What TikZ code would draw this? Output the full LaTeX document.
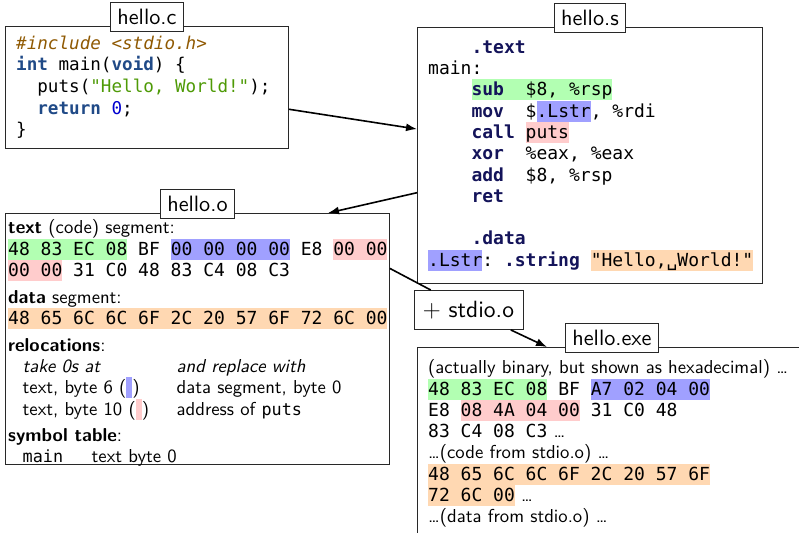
\documentclass[tikz,border=0pt]{standalone}
\usepackage{fontspec}
\setmonofont{DejaVu Sans Mono}
\setsansfont{lmsans10-regular.otf}[BoldFont=lmsans10-bold.otf, ItalicFont=lmsans10-oblique.otf, BoldItalicFont=lmsans10-boldoblique.otf]
\usetikzlibrary{arrows.meta,calc}
\definecolor{hlg}{RGB}{178,255,178}
\definecolor{hlb}{RGB}{160,160,255}
\definecolor{hlr}{RGB}{255,204,204}
\definecolor{hlo}{RGB}{255,216,178}
\definecolor{kwc}{RGB}{32,74,135}
\definecolor{strc}{RGB}{78,154,6}
\definecolor{numc}{RGB}{0,0,207}
\definecolor{ppc}{RGB}{143,89,2}
\definecolor{asmc}{RGB}{20,20,90}
\definecolor{edgec}{RGB}{40,40,40}
\newcommand\mystrut{\rule[-4.5pt]{0pt}{21pt}}
\newcommand\hlx[2]{{\setlength{\fboxsep}{0pt}\colorbox{#1}{\mystrut#2}}}
\newcommand\ckw[1]{\textcolor{kwc}{\bfseries #1}}
\newcommand\ak[1]{\textcolor{asmc}{\bfseries #1}}
\newcommand\smono{\ttfamily\fontsize{18}{21}\selectfont}
\newcommand\tmono{\ttfamily\fontsize{16.8}{21}\selectfont}
\tikzset{
  filebox/.style={draw=edgec, line width=0.9pt, rectangle, inner sep=0pt, anchor=north west},
  lbl/.style={draw=edgec, line width=0.9pt, fill=white, font=\sffamily\fontsize{22.2}{24}\selectfont, inner xsep=6.8pt, inner ysep=7pt},
  txt/.style={anchor=north west, inner sep=0pt, align=left, font=\sffamily\fontsize{18.7}{21}\selectfont},
  conn/.style={line width=1.6pt, draw=black},
  arr/.style={conn, -{Latex[length=11pt,width=8pt]}},
}
\begin{document}
\begin{tikzpicture}[x=1pt,y=1pt]
\useasboundingbox (0,0) rectangle (799,-532);
\clip (0,0) rectangle (799,-532);
\frenchspacing
% boxes
\node[filebox, minimum width=283pt, minimum height=122pt] (hc) at (5,-26) {};
\node[filebox, minimum width=345pt, minimum height=256pt] (hs) at (417,-27) {};
\node[filebox, minimum width=384pt, minimum height=251pt] (ho) at (5,-213) {};
\node[filebox, minimum width=389pt, minimum height=200pt] (hx) at (417,-347) {};
% contents
\node[txt, font=\ttfamily\fontsize{17.6}{21.6}\selectfont] (hcT) at (16,-32.5) {%
\mystrut\textcolor{ppc}{\itshape\#include <stdio.h>}\\
\mystrut\ckw{int} main(\ckw{void}) \{\\
\mystrut~~puts(\textcolor{strc}{"Hello, World!"});\\
\mystrut~~\ckw{return} \textcolor{numc}{0};\\
\mystrut\}};
\node[txt, font=\ttfamily\fontsize{18}{21.3}\selectfont] (hsT) at (428,-36.5) {%
\mystrut~~~~\ak{.text}\\
\mystrut main:\\
\mystrut~~~~\hlx{hlg}{\ak{sub}~~\$8, \%rsp}\\
\mystrut~~~~\ak{mov}~~\$\hlx{hlb}{.Lstr}, \%rdi\\
\mystrut~~~~\ak{call} \hlx{hlr}{puts}\\
\mystrut~~~~\ak{xor}~~\%eax, \%eax\\
\mystrut~~~~\ak{add}~~\$8, \%rsp\\
\mystrut~~~~\ak{ret}\\
\mystrut\\
\mystrut~~~~\ak{.data}\\
\mystrut\hlx{hlb}{.Lstr}: \ak{.string} \hlx{hlo}{"Hello,␣World!"}};
\node[txt] (hoT) at (8,-216.5) {%
\mystrut\textbf{text} (code) segment:\\
{\smono\mystrut\hlx{hlg}{48 83 EC 08} BF \hlx{hlb}{00 00 00 00} E8 \hlx{hlr}{00 00}}\\
{\smono\mystrut\hlx{hlr}{00 00} 31 C0 48 83 C4 08 C3}\\[6pt]
\mystrut\textbf{data} segment:\\
{\smono\mystrut\hlx{hlo}{48 65 6C 6C 6F 2C 20 57 6F 72 6C 00}}\\[6pt]
\mystrut\textbf{relocations}:\\
\mystrut\hspace*{14.5pt}\makebox[154pt][l]{\itshape take 0s at}{\itshape and replace with}\\
\mystrut\hspace*{14.5pt}\makebox[154pt][l]{text, byte 6 (\hlx{hlb}{\hspace*{6pt}})}data segment, byte 0\\
\mystrut\hspace*{14.5pt}\makebox[154pt][l]{text, byte 10 (\hlx{hlr}{\hspace*{6pt}})}address of {\tmono puts}\\[4pt]
\mystrut\textbf{symbol table}:\\
\mystrut\hspace*{14.5pt}\makebox[69pt][l]{\tmono main}text byte 0};
\node[txt] (hxT) at (428,-356.5) {%
\mystrut(actually binary, but shown as hexadecimal) \dots\\
{\smono\mystrut\hlx{hlg}{48 83 EC 08} BF \hlx{hlb}{A7 02 04 00}}\\
{\smono\mystrut E8 \hlx{hlr}{08 4A 04 00} 31 C0 48}\\
{\smono\mystrut 83 C4 08 C3} \dots\\
\mystrut\dots(code from stdio.o) \dots\\
{\smono\mystrut\hlx{hlo}{48 65 6C 6C 6F 2C 20 57 6F}}\\
{\smono\mystrut\hlx{hlo}{72 6C 00}} \dots\\
\mystrut\dots(data from stdio.o) \dots};
% labels
\node[lbl] (hcL) at ([yshift=9pt]hc.north) {hello.c};
\node[lbl] (hsL) at ([yshift=9pt]hs.north) {hello.s};
\node[lbl] (hoL) at ([yshift=9pt]ho.north) {hello.o};
\node[lbl] (hxL) at ([yshift=9pt]hx.north) {hello.exe};
% linker node
\node[lbl, font=\sffamily\fontsize{23.5}{26}\selectfont, minimum width=109pt, minimum height=39pt, inner xsep=4pt, inner ysep=4pt] (st) at (468.5,-310) {$+$ stdio.o};
% connectors
\coordinate (hsOut) at ($(hs.north west)!0.645!(hs.south west)$);
\coordinate (hoIn) at ([xshift=323pt]ho.north west);
\coordinate (hoOut) at ($(ho.north east)!0.22!(ho.south east)$);
\coordinate (hxIn) at ([xshift=130pt]hx.north west);
\draw[arr] (hc) -- (hs);
\draw[arr] (hsOut) -- (hoIn);
\draw[conn] (hoOut) -- (st);
\draw[arr] (st) -- (hxIn);
\end{tikzpicture}
\end{document}
